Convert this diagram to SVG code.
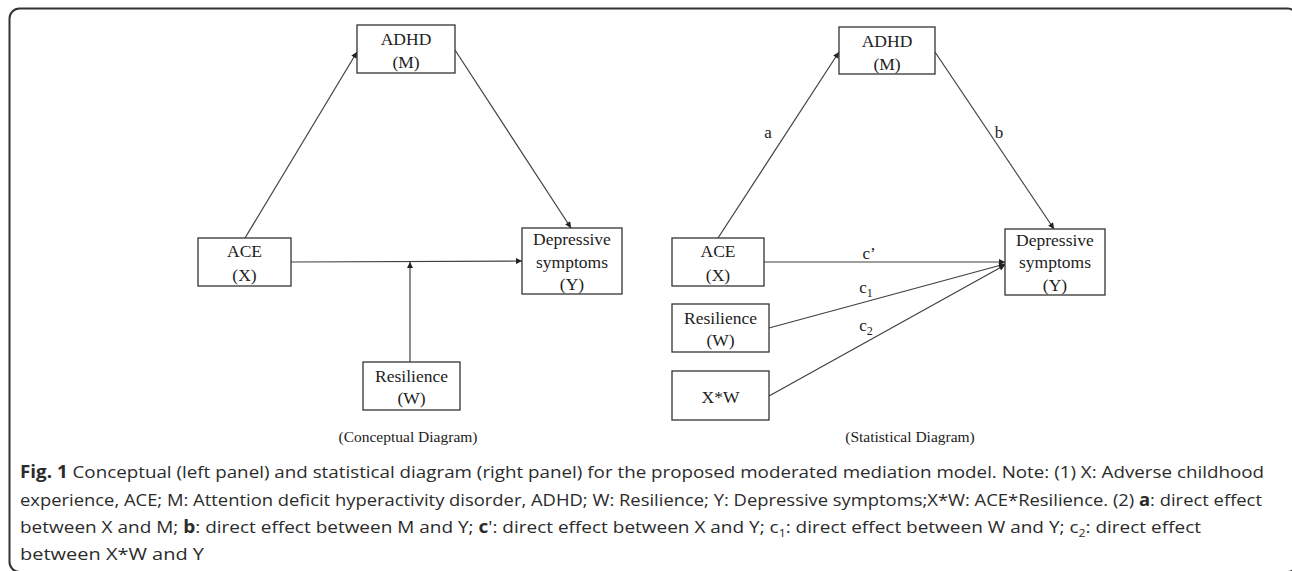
<svg xmlns="http://www.w3.org/2000/svg" width="1292" height="571" viewBox="0 0 1292 571">
<style>
.box{fill:#fff;stroke:#333;stroke-width:1.3}
.bt{font-family:"Liberation Serif","Times New Roman",serif;font-size:17.5px;fill:#222;text-anchor:middle}
.lbl{font-family:"Liberation Serif","Times New Roman",serif;font-size:17px;fill:#222;text-anchor:middle}
.cap{font-family:"Liberation Serif","Times New Roman",serif;font-size:15.5px;fill:#222;text-anchor:middle}
.ln{stroke:#404040;stroke-width:1.2;fill:none;marker-end:url(#ah)}
.fc{font-family:"Open Sans","Noto Sans",sans-serif;font-size:17px;fill:#2b2b2b}
.b{font-weight:bold}
</style>
<defs>
<marker id="ah" viewBox="0 0 10 10" refX="10" refY="5" markerWidth="7" markerHeight="6" markerUnits="userSpaceOnUse" orient="auto">
<path d="M0,0 L10,5 L0,10 z" fill="#222"/>
</marker>
</defs>
<rect x="9.5" y="8.5" width="1288" height="563.5" rx="10" fill="#fff" stroke="#333" stroke-width="2"/>

<g id="connectors">
<line class="ln" x1="245" y1="238" x2="357" y2="52"/>
<line class="ln" x1="455" y1="50" x2="571" y2="228"/>
<line class="ln" x1="291" y1="262" x2="522" y2="261"/>
<line class="ln" x1="410" y1="362" x2="410" y2="262"/>
<line class="ln" x1="718" y1="238" x2="839" y2="52"/>
<line class="ln" x1="935" y1="52" x2="1054" y2="229"/>
<line class="ln" x1="764" y1="262" x2="1005" y2="262"/>
<line class="ln" x1="769" y1="328" x2="1005" y2="264"/>
<line class="ln" x1="769" y1="396" x2="1005" y2="265"/>
<text class="lbl" x="768" y="138">a</text>
<text class="lbl" x="999" y="138">b</text>
<text class="lbl" x="869" y="259">c’</text>
<text class="lbl" x="866" y="293">c<tspan font-size="12" dy="4">1</tspan></text>
<text class="lbl" x="866" y="331">c<tspan font-size="12" dy="4">2</tspan></text>
</g>

<g id="l-adhd"><rect class="box" x="357" y="25" width="98" height="48"/><text class="bt" x="406" y="45">ADHD</text><text class="bt" x="406" y="68">(M)</text></g>
<g id="l-ace"><rect class="box" x="198" y="238" width="93" height="48"/><text class="bt" x="244.5" y="257">ACE</text><text class="bt" x="244.5" y="281">(X)</text></g>
<g id="l-dep"><rect class="box" x="522" y="228" width="100" height="66"/><text class="bt" x="572" y="245">Depressive</text><text class="bt" x="572" y="268">symptoms</text><text class="bt" x="572" y="290">(Y)</text></g>
<g id="l-res"><rect class="box" x="363" y="362" width="97" height="48"/><text class="bt" x="411.5" y="382">Resilience</text><text class="bt" x="411.5" y="404">(W)</text></g>
<text class="cap" x="408" y="442">(Conceptual Diagram)</text>

<g id="r-adhd"><rect class="box" x="839" y="27" width="96" height="47"/><text class="bt" x="887" y="47">ADHD</text><text class="bt" x="887" y="70">(M)</text></g>
<g id="r-ace"><rect class="box" x="672" y="238" width="92" height="48"/><text class="bt" x="718" y="257">ACE</text><text class="bt" x="718" y="281">(X)</text></g>
<g id="r-res"><rect class="box" x="672" y="304" width="97" height="48"/><text class="bt" x="720.5" y="324">Resilience</text><text class="bt" x="720.5" y="346">(W)</text></g>
<g id="r-xw"><rect class="box" x="672" y="371" width="97" height="49"/><text class="bt" x="720.5" y="403">X*W</text></g>
<g id="r-dep"><rect class="box" x="1005" y="229" width="100" height="66"/><text class="bt" x="1055" y="246">Depressive</text><text class="bt" x="1055" y="268">symptoms</text><text class="bt" x="1055" y="291">(Y)</text></g>
<text class="cap" x="910" y="442">(Statistical Diagram)</text>

<g id="caption">
<text class="fc" x="20" y="478" textLength="1244" lengthAdjust="spacingAndGlyphs"><tspan class="b">Fig. 1</tspan> Conceptual (left panel) and statistical diagram (right panel) for the proposed moderated mediation model. Note: (1) X: Adverse childhood</text>
<text class="fc" x="20" y="505.5" textLength="1242" lengthAdjust="spacingAndGlyphs">experience, ACE; M: Attention deficit hyperactivity disorder, ADHD; W: Resilience; Y: Depressive symptoms;X*W: ACE*Resilience. (2) <tspan class="b">a</tspan>: direct effect</text>
<text class="fc" x="20" y="533" textLength="1181" lengthAdjust="spacingAndGlyphs">between X and M; <tspan class="b">b</tspan>: direct effect between M and Y; <tspan class="b">c</tspan>': direct effect between X and Y; c<tspan font-size="11" dy="4">1</tspan><tspan dy="-4">: direct effect between W and Y; c</tspan><tspan font-size="11" dy="4">2</tspan><tspan dy="-4">: direct effect</tspan></text>
<text class="fc" x="20" y="560" textLength="184" lengthAdjust="spacingAndGlyphs">between X*W and Y</text>
</g>
</svg>
